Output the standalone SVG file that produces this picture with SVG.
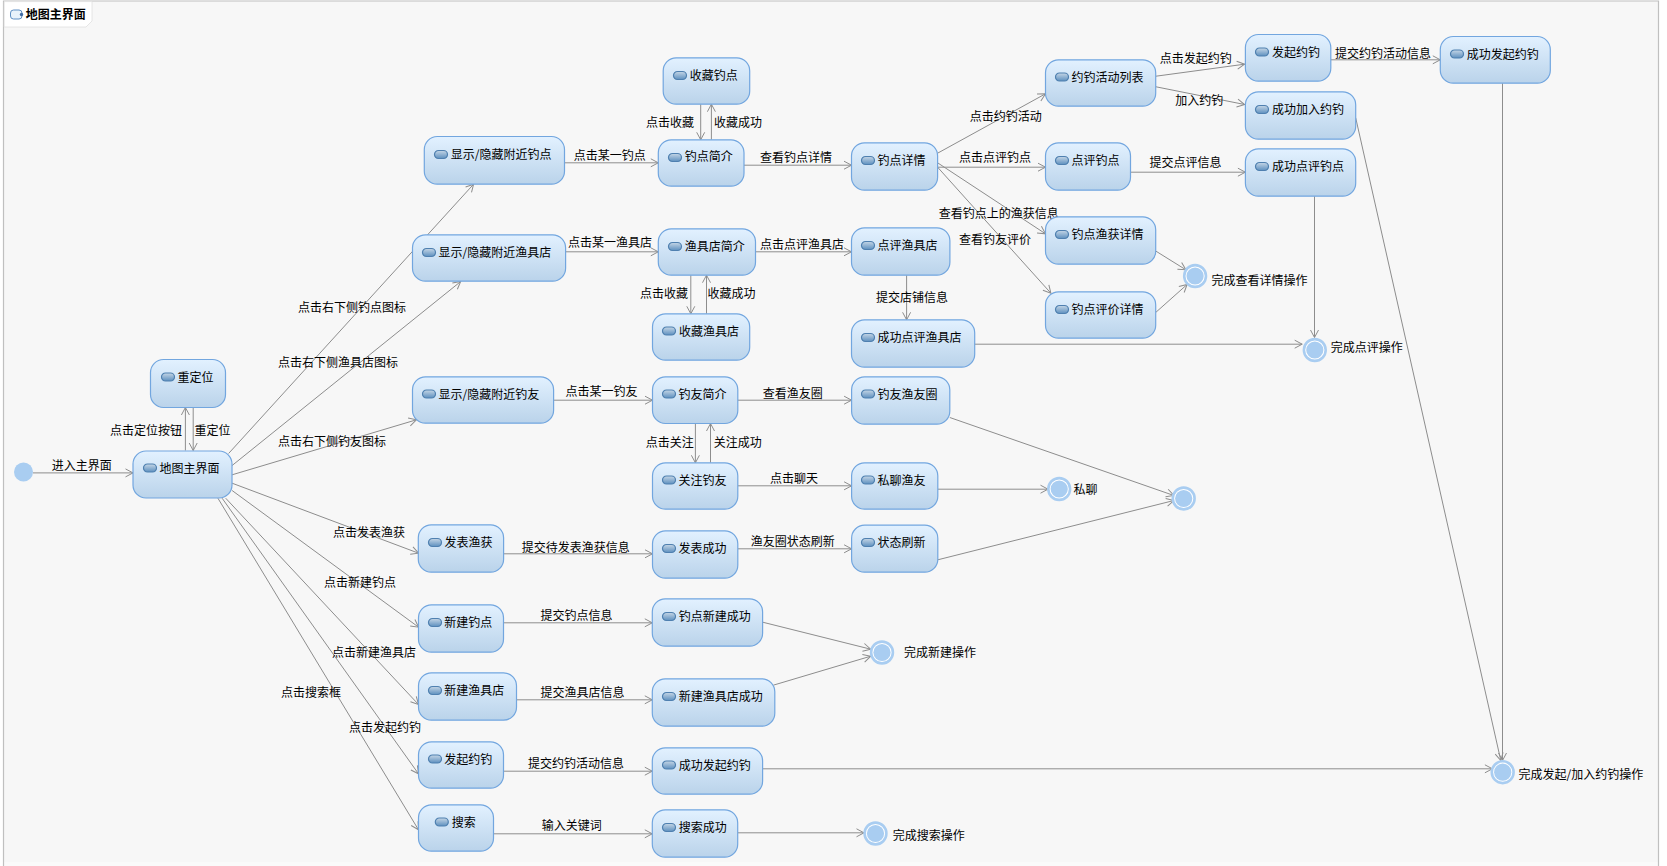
<svg xmlns="http://www.w3.org/2000/svg" width="1667" height="866" viewBox="0 0 1667 866">
<style>
text{font-family:"Noto Sans CJK SC","Liberation Sans",sans-serif;font-size:12px;fill:#000;transform:translateY(.5px)}
.n{fill:url(#ng);stroke:#72a6df;stroke-width:1.2}
.c{fill:none;stroke:#8d8d8d;stroke-width:1;marker-end:url(#a)}
.f{fill:#a9cdf1}
.o{fill:#fff;stroke:#a9cdf1;stroke-width:2.6}
.i{fill:url(#ig);stroke:#4f80b0;stroke-width:1.2}
</style>
<defs>
<linearGradient id="ng" x1="0" y1="0" x2="0" y2="1"><stop offset="0" stop-color="#e2f1ff"/><stop offset="1" stop-color="#bad3ea"/></linearGradient>
<linearGradient id="ig" x1="0" y1="0" x2="0" y2="1"><stop offset="0" stop-color="#c5d6e6"/><stop offset="1" stop-color="#5e90bf"/></linearGradient>
<marker id="a" markerUnits="userSpaceOnUse" markerWidth="12" markerHeight="12" refX="9" refY="6" orient="auto"><path d="M1.5 2 L9 6 L1.5 10" fill="none" stroke="#8d8d8d" stroke-width="1"/></marker>
<rect id="ic" x="0" y="0" width="13" height="8" rx="4" class="i"/>
</defs>
<rect x="0" y="0" width="1667" height="866" fill="#fff"/>
<rect x="3.5" y="1" width="1655" height="865" fill="#f7f7f7"/>
<rect x="3.5" y="862" width="1655" height="4" fill="#fafafa"/>
<path d="M3.5 866V1H1658.5V866" fill="none" stroke="#c0c0c0" stroke-width="1.2"/>
<g id="title">
<path d="M4.2 1.6H92V21L86 27H4.2Z" fill="#fff" stroke="#e0e0e0" stroke-width="0.8"/>
<rect x="10.5" y="10" width="11.5" height="9" rx="3" fill="#e8f2fb" stroke="#5e8fc4" stroke-width="1"/>
<circle cx="21.5" cy="14.5" r="1.7" fill="#3e6aa3"/>
<text x="25.7" y="18" font-weight="bold">地图主界面</text>
</g>
<g transform="translate(0,.5)">
<g id="connectors">
<path class="c" d="M33 472.4H133"/>
<path class="c" d="M185.4 450V407"/>
<path class="c" d="M193.2 407V450"/>
<path class="c" d="M228.6 453L473.6 183.7"/>
<path class="c" d="M232.1 465L460.7 281"/>
<path class="c" d="M232.1 474.3L416.4 419.3"/>
<path class="c" d="M232.1 482.7L418.6 552.7"/>
<path class="c" d="M232.1 490L418.6 626.7"/>
<path class="c" d="M225.7 497.7L418.5 704"/>
<path class="c" d="M222.1 497.7L418.5 773.3"/>
<path class="c" d="M217.9 497.7L418.5 829.3"/>
<path class="c" d="M564.5 162.3H658.3"/>
<path class="c" d="M700.7 103.7V139.3"/>
<path class="c" d="M711.4 139.3V103.7"/>
<path class="c" d="M744 164.7H851.5"/>
<path class="c" d="M937.6 152.7L1045.5 93.3"/>
<path class="c" d="M937.6 166.7H1045.5"/>
<path class="c" d="M937.6 162.3L1045.5 233.3"/>
<path class="c" d="M937.6 166.7L1050.9 292.7"/>
<path class="c" d="M565.6 251.3H658.3"/>
<path class="c" d="M755.5 251.3H851.5"/>
<path class="c" d="M690.8 274.7V313.3"/>
<path class="c" d="M706.5 313.3V274.7"/>
<path class="c" d="M906.6 274.7V319.3"/>
<path class="c" d="M974.7 343.7H1302.2"/>
<path class="c" d="M1156 75.7L1244.6 63.7"/>
<path class="c" d="M1156 86.3L1244.6 104"/>
<path class="c" d="M1330.8 59.3H1440.3"/>
<path class="c" d="M1130.5 171.7H1245.4"/>
<path class="c" d="M1314.5 195.7V337"/>
<path class="c" d="M1156 250.7L1185.9 269.3"/>
<path class="c" d="M1156 311.7L1187.1 284"/>
<path class="c" d="M1355.7 117.3L1500.8 760"/>
<path class="c" d="M1502.5 82.7V760"/>
<path class="c" d="M762.6 768.3H1492.4"/>
<path class="c" d="M553.6 399.7H652.5"/>
<path class="c" d="M737.8 399.7H851.6"/>
<path class="c" d="M695.4 423V462.3"/>
<path class="c" d="M710.5 462.3V423"/>
<path class="c" d="M737.8 485.3H851.6"/>
<path class="c" d="M937.8 488.7H1048"/>
<path class="c" d="M949.8 417L1173.9 495"/>
<path class="c" d="M937.8 559.3L1173.9 500"/>
<path class="c" d="M737.8 548.3H851.6"/>
<path class="c" d="M503.6 553.3H652.5"/>
<path class="c" d="M503.5 622.3H652.3"/>
<path class="c" d="M516.5 699.3H652.3"/>
<path class="c" d="M503.5 770.7H652.3"/>
<path class="c" d="M493.5 833.3H652.3"/>
<path class="c" d="M762.7 621.7L870.7 648.7"/>
<path class="c" d="M773.3 684.7L870.7 655.7"/>
<path class="c" d="M738 832.3H864"/>
</g>
<g id="labels">
<text x="51.8" y="468.7">进入主界面</text>
<text x="110" y="433.7">点击定位按钮</text>
<text x="194.6" y="434">重定位</text>
<text x="298" y="311">点击右下侧钓点图标</text>
<text x="277.9" y="365.7">点击右下侧渔具店图标</text>
<text x="277.9" y="444.7">点击右下侧钓友图标</text>
<text x="332.9" y="536">点击发表渔获</text>
<text x="324" y="585.7">点击新建钓点</text>
<text x="332" y="655.7">点击新建渔具店</text>
<text x="281" y="695.7">点击搜索框</text>
<text x="348.9" y="731">点击发起约钓</text>
<text x="573.7" y="158.7">点击某一钓点</text>
<text x="646" y="126">点击收藏</text>
<text x="714" y="126">收藏成功</text>
<text x="760" y="161">查看钓点详情</text>
<text x="969.8" y="120">点击约钓活动</text>
<text x="959" y="161">点击点评钓点</text>
<text x="938.8" y="216.7">查看钓点上的渔获信息</text>
<text x="959" y="243">查看钓友评价</text>
<text x="568" y="245.7">点击某一渔具店</text>
<text x="760" y="248">点击点评渔具店</text>
<text x="639.9" y="297">点击收藏</text>
<text x="707.6" y="297">收藏成功</text>
<text x="876" y="300.7">提交店铺信息</text>
<text x="1159.7" y="61.7">点击发起约钓</text>
<text x="1175.3" y="103.7">加入约钓</text>
<text x="1335" y="56.7">提交约钓活动信息</text>
<text x="1149.5" y="166">提交点评信息</text>
<text x="565.4" y="394.7">点击某一钓友</text>
<text x="762.8" y="397.4">查看渔友圈</text>
<text x="645.8" y="446">点击关注</text>
<text x="713.7" y="446">关注成功</text>
<text x="769.9" y="482">点击聊天</text>
<text x="750.7" y="544.7">渔友圈状态刷新</text>
<text x="521.8" y="551">提交待发表渔获信息</text>
<text x="540.6" y="618.7">提交钓点信息</text>
<text x="540.6" y="695.7">提交渔具店信息</text>
<text x="528" y="766.7">提交约钓活动信息</text>
<text x="541.8" y="829">输入关键词</text>
</g>
<g id="start"><circle class="f" cx="23.5" cy="471.5" r="9.5"/></g>
<g id="n1"><rect class="n" x="133" y="450.5" width="99" height="47" rx="13"/><use href="#ic" x="143.5" y="463.5"/><text x="159.6" y="472">地图主界面</text></g>
<g id="n2"><rect class="n" x="150.5" y="359" width="75" height="48" rx="13"/><use href="#ic" x="161.5" y="372.5"/><text x="177.5" y="381">重定位</text></g>
<g id="n3"><rect class="n" x="424.3" y="136" width="140.2" height="47.7" rx="13"/><use href="#ic" x="434.5" y="150"/><text x="450.7" y="157.7">显示/隐藏附近钓点</text></g>
<g id="n4"><rect class="n" x="412.5" y="234.3" width="153.1" height="46.4" rx="13"/><use href="#ic" x="422.5" y="248"/><text x="438.6" y="256">显示/隐藏附近渔具店</text></g>
<g id="n5"><rect class="n" x="412.5" y="376.3" width="141.1" height="46.4" rx="13"/><use href="#ic" x="422.5" y="389.5"/><text x="438.6" y="398">显示/隐藏附近钓友</text></g>
<g id="n6"><rect class="n" x="418.3" y="524.3" width="85.3" height="47.4" rx="13"/><use href="#ic" x="428.5" y="538"/><text x="444.5" y="546">发表渔获</text></g>
<g id="n7"><rect class="n" x="418.5" y="604.3" width="85" height="47.4" rx="13"/><use href="#ic" x="428.5" y="618"/><text x="444.2" y="626">新建钓点</text></g>
<g id="n8"><rect class="n" x="418.5" y="672.3" width="98" height="47.4" rx="13"/><use href="#ic" x="428.5" y="686"/><text x="444.2" y="694">新建渔具店</text></g>
<g id="n9"><rect class="n" x="418.5" y="741.3" width="85" height="46.4" rx="13"/><use href="#ic" x="428.5" y="754.5"/><text x="444.2" y="763">发起约钓</text></g>
<g id="n10"><rect class="n" x="418.5" y="804.3" width="75" height="46.4" rx="13"/><use href="#ic" x="435.3" y="817.5"/><text x="451.8" y="826">搜索</text></g>
<g id="n11"><rect class="n" x="652.3" y="598.3" width="110.3" height="47.4" rx="13"/><use href="#ic" x="662.5" y="612"/><text x="678.7" y="620">钓点新建成功</text></g>
<g id="n12"><rect class="n" x="652.3" y="678.3" width="122.5" height="47.4" rx="13"/><use href="#ic" x="662.5" y="692"/><text x="678.7" y="700">新建渔具店成功</text></g>
<g id="n13"><rect class="n" x="652.3" y="747.3" width="110.3" height="46.4" rx="13"/><use href="#ic" x="662.5" y="760.5"/><text x="678.7" y="769">成功发起约钓</text></g>
<g id="n14"><rect class="n" x="652.3" y="809.3" width="85.4" height="47.4" rx="13"/><use href="#ic" x="662.5" y="823"/><text x="678.7" y="831">搜索成功</text></g>
<g id="n15"><rect class="n" x="663.2" y="57.3" width="86.5" height="46.4" rx="13"/><use href="#ic" x="673.5" y="71"/><text x="689.8" y="79">收藏钓点</text></g>
<g id="n16"><rect class="n" x="658.3" y="139.3" width="85.7" height="46.4" rx="13"/><use href="#ic" x="668.5" y="153"/><text x="684.7" y="160">钓点简介</text></g>
<g id="n17"><rect class="n" x="851.5" y="142.3" width="86.1" height="47.4" rx="13"/><use href="#ic" x="861.5" y="156"/><text x="877.5" y="164">钓点详情</text></g>
<g id="n18"><rect class="n" x="1045.5" y="59.3" width="110.2" height="46.4" rx="13"/><use href="#ic" x="1055.5" y="72.5"/><text x="1071.5" y="81">约钓活动列表</text></g>
<g id="n19"><rect class="n" x="1045.5" y="142.3" width="85" height="47.4" rx="13"/><use href="#ic" x="1055.5" y="156"/><text x="1071.5" y="164">点评钓点</text></g>
<g id="n20"><rect class="n" x="1045.5" y="216.3" width="110.2" height="47.4" rx="13"/><use href="#ic" x="1055.5" y="230"/><text x="1071.5" y="238">钓点渔获详情</text></g>
<g id="n21"><rect class="n" x="1045.5" y="291.3" width="110.2" height="46.4" rx="13"/><use href="#ic" x="1055.5" y="305"/><text x="1071.5" y="313">钓点评价详情</text></g>
<g id="n22"><rect class="n" x="658.3" y="228.3" width="97.2" height="46.4" rx="13"/><use href="#ic" x="668.5" y="242"/><text x="684.7" y="249.5">渔具店简介</text></g>
<g id="n23"><rect class="n" x="851.5" y="227.3" width="98.4" height="47.4" rx="13"/><use href="#ic" x="861.5" y="241"/><text x="877.5" y="249">点评渔具店</text></g>
<g id="n24"><rect class="n" x="652.5" y="313.3" width="97.2" height="46.4" rx="13"/><use href="#ic" x="662.5" y="326.5"/><text x="679" y="335">收藏渔具店</text></g>
<g id="n25"><rect class="n" x="851.5" y="319.3" width="123.2" height="47.4" rx="13"/><use href="#ic" x="861.5" y="333"/><text x="877.5" y="341">成功点评渔具店</text></g>
<g id="n26"><rect class="n" x="652.5" y="376.3" width="85.3" height="46.7" rx="13"/><use href="#ic" x="662.5" y="389.5"/><text x="678.5" y="398">钓友简介</text></g>
<g id="n27"><rect class="n" x="851.6" y="376.3" width="98.2" height="47.4" rx="13"/><use href="#ic" x="861.5" y="389.5"/><text x="877.5" y="398">钓友渔友圈</text></g>
<g id="n28"><rect class="n" x="652.5" y="462.3" width="85.3" height="46.4" rx="13"/><use href="#ic" x="662.5" y="475.5"/><text x="678.5" y="484">关注钓友</text></g>
<g id="n29"><rect class="n" x="851.6" y="462.3" width="86.2" height="46.4" rx="13"/><use href="#ic" x="861.5" y="475.5"/><text x="877.5" y="484">私聊渔友</text></g>
<g id="n30"><rect class="n" x="652.5" y="530.3" width="85.3" height="47.4" rx="13"/><use href="#ic" x="662.5" y="544"/><text x="678.5" y="552">发表成功</text></g>
<g id="n31"><rect class="n" x="851.6" y="524.7" width="86.2" height="47" rx="13"/><use href="#ic" x="861.5" y="538"/><text x="877.5" y="546">状态刷新</text></g>
<g id="n32"><rect class="n" x="1245.4" y="34" width="85.4" height="46.7" rx="13"/><use href="#ic" x="1255.5" y="47.5"/><text x="1271.9" y="56">发起约钓</text></g>
<g id="n33"><rect class="n" x="1440.3" y="36" width="110" height="46.7" rx="13"/><use href="#ic" x="1450.5" y="49.5"/><text x="1466.8" y="58">成功发起约钓</text></g>
<g id="n34"><rect class="n" x="1245.4" y="91.3" width="110.3" height="47.4" rx="13"/><use href="#ic" x="1255.5" y="105"/><text x="1271.9" y="113">成功加入约钓</text></g>
<g id="n35"><rect class="n" x="1245.4" y="148.3" width="110.3" height="47.4" rx="13"/><use href="#ic" x="1255.5" y="162"/><text x="1271.9" y="170">成功点评钓点</text></g>
<g id="e1"><circle class="o" cx="1195.1" cy="275.5" r="10.9"/><circle class="f" cx="1195.1" cy="275.5" r="8.6"/><text x="1211.5" y="283.7">完成查看详情操作</text></g>
<g id="e2"><circle class="o" cx="1314.8" cy="349.5" r="10.9"/><circle class="f" cx="1314.8" cy="349.5" r="8.6"/><text x="1330.8" y="351">完成点评操作</text></g>
<g id="e3"><circle class="o" cx="1502.7" cy="771.7" r="10.9"/><circle class="f" cx="1502.7" cy="771.7" r="8.6"/><text x="1518.6" y="778.4">完成发起/加入约钓操作</text></g>
<g id="e4"><circle class="o" cx="1059.2" cy="488.5" r="10.9"/><circle class="f" cx="1059.2" cy="488.5" r="8.6"/><text x="1073.5" y="493">私聊</text></g>
<g id="e5"><circle class="o" cx="1183.7" cy="498" r="10.9"/><circle class="f" cx="1183.7" cy="498" r="8.6"/></g>
<g id="e6"><circle class="o" cx="882" cy="652" r="10.9"/><circle class="f" cx="882" cy="652" r="8.6"/><text x="904" y="655.7">完成新建操作</text></g>
<g id="e7"><circle class="o" cx="875.5" cy="833" r="10.9"/><circle class="f" cx="875.5" cy="833" r="8.6"/><text x="892.7" y="839">完成搜索操作</text></g>
</g>
</svg>
